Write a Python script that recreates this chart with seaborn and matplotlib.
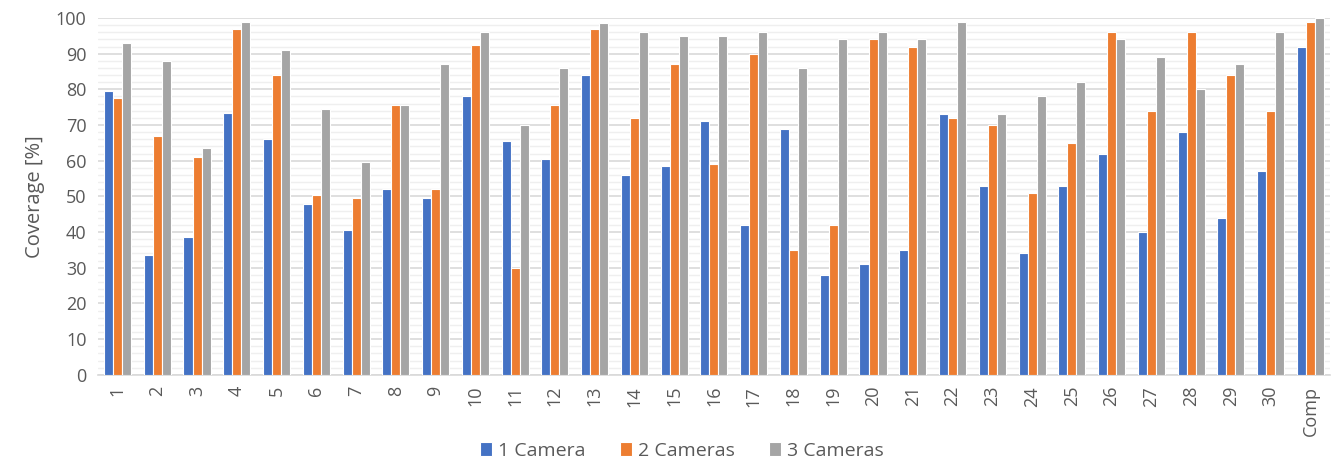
import matplotlib
matplotlib.use("Agg")
import matplotlib.pyplot as plt
from matplotlib.ticker import MultipleLocator
import seaborn as sns
import pandas as pd

categories = [str(i) for i in range(1, 31)] + ["Comp"]
one_camera = [79.5, 33.5, 38.5, 73.5, 66, 48, 40.5, 52, 49.5, 78,
              65.5, 60.5, 84, 56, 58.5, 71, 42, 69, 28, 31,
              35, 73, 53, 34, 53, 62, 40, 68, 44, 57, 92]
two_cameras = [77.5, 67, 61, 97, 84, 50.5, 49.5, 75.5, 52, 92.5,
               30, 75.5, 97, 72, 87, 59, 90, 35, 42, 94,
               92, 72, 70, 51, 65, 96, 74, 96, 84, 74, 99]
three_cameras = [93, 88, 63.5, 99, 91, 74.5, 59.5, 75.5, 87, 96,
                 70, 86, 98.5, 96, 95, 95, 96, 86, 94, 96,
                 94, 99, 73, 78, 82, 94, 89, 80, 87, 96, 100]
series_names = ["1 Camera", "2 Cameras", "3 Cameras"]
palette = ["#4472C4", "#ED7D31", "#A5A5A5"]

df = pd.DataFrame({
    "Scene": categories * 3,
    "Coverage": one_camera + two_cameras + three_cameras,
    "Setup": [n for n in series_names for _ in categories],
})

sns.set_theme(style="white")
plt.rcParams["font.family"] = ["Open Sans", "DejaVu Sans"]

fig = plt.figure(figsize=(13.37, 4.61), dpi=100)
ax = fig.add_axes([0.073, 0.187, 0.922, 0.774])

sns.barplot(data=df, x="Scene", y="Coverage", hue="Setup", order=categories,
            hue_order=series_names, palette=palette, width=0.68,
            edgecolor="white", linewidth=0.8, saturation=1, ax=ax, zorder=3)

ax.set_ylim(0, 100)
ax.set_xlim(-0.5, len(categories) - 0.5)
ax.yaxis.set_major_locator(MultipleLocator(10))
ax.yaxis.set_minor_locator(MultipleLocator(2))
ax.grid(axis="y", which="major", color="#D9D9D9", linewidth=1.2, zorder=0)
ax.grid(axis="y", which="minor", color="#EFEFEF", linewidth=1.0, zorder=0)
ax.set_axisbelow(True)

for side in ["top", "right", "left"]:
    ax.spines[side].set_visible(False)
ax.spines["bottom"].set_color("#D9D9D9")
ax.spines["bottom"].set_linewidth(1.2)

ax.tick_params(axis="y", which="both", length=0, labelsize=13, colors="#595959", pad=8)
ax.tick_params(axis="x", length=0, labelsize=13, colors="#595959", rotation=90, pad=8)
ax.set_xlabel("")
ax.set_ylabel("Coverage [%]", fontsize=14.5, color="#595959", labelpad=8)

handles, labels = ax.get_legend_handles_labels()
ax.get_legend().remove()
fig.legend(handles, labels, loc="center", bbox_to_anchor=(0.51, 0.022), ncol=3,
           frameon=False, fontsize=14, handlelength=0.6, handleheight=0.7,
           handletextpad=0.3, columnspacing=1.8, labelcolor="#595959")

fig.savefig("out.png", dpi=100)
